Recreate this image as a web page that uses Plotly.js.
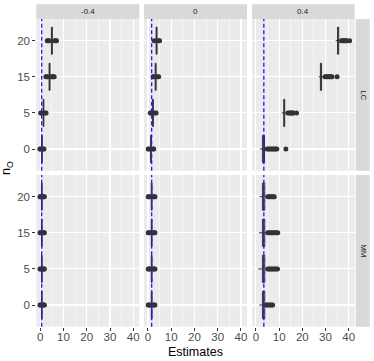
<!DOCTYPE html>
<html>
<head>
<meta charset="utf-8">
<script src="https://cdn.plot.ly/plotly-3.0.1.min.js"></script>
<style>
  html, body { margin: 0; padding: 0; background: #fff; }
  #plot { width: 374px; height: 361px; }
</style>
</head>
<body>
<div id="plot"></div>
<script>
// facets and categories
const rowNames = ['LC', 'MM'];
const colNames = ['-0.4', '0', '0.4'];
const nO = ['0', '5', '15', '20'];
const trueVals = [0.62, 1.6, 3.4];

// box stats, one array per panel (order of nO), rows LC then MM, cols -0.4, 0, 0.4
const medians = [
  [0.7, 1.4, 4.0, 5.0], [1.3, 2.15, 3.3, 3.7], [3.2, 12.2, 28.0, 35.4],
  [0.65, 0.65, 0.65, 0.65], [1.6, 1.6, 1.6, 1.6], [3.2, 3.3, 3.3, 3.2]
];
const q1s = [
  [0.55, 1.25, 3.8, 4.8], [1.15, 2.0, 3.1, 3.5], [2.8, 12.0, 27.8, 35.2],
  [0.5, 0.5, 0.5, 0.5], [1.45, 1.45, 1.45, 1.45], [2.8, 2.8, 2.8, 2.8]
];
const q3s = [
  [0.85, 1.55, 4.2, 5.2], [1.45, 2.3, 3.5, 3.9], [3.7, 12.4, 28.3, 35.7],
  [0.8, 0.8, 0.8, 0.8], [1.75, 1.75, 1.75, 1.75], [3.8, 3.8, 3.8, 3.8]
];
const lowers = [
  [0.3, 0.9, 3.3, 4.2], [0.8, 1.6, 2.7, 3.1], [1.7, 11.1, 27.1, 34.4],
  [0.2, 0.2, 0.2, 0.2], [1.1, 1.1, 1.1, 1.1], [1.4, 1.0, 1.3, 1.6]
];
const uppers = [
  [1.1, 1.9, 4.7, 5.8], [1.8, 2.7, 4.0, 4.4], [4.6, 13.4, 29.5, 36.6],
  [1.1, 1.1, 1.1, 1.1], [2.1, 2.1, 2.1, 2.1], [4.5, 4.6, 4.6, 4.6]
];
const outliers = [
  [[-0.2, 0.1, 1.3, 1.6], [0.2, 0.5, 2.2, 2.5], [2.4, 2.8, 3.1, 4.9, 5.3, 5.7, 6.0], [3.0, 3.4, 3.8, 6.2, 6.6, 7.0]],
  [[0.1, 0.4, 2.2, 2.5], [1.0, 1.3, 3.0, 3.5], [2.2, 2.5, 4.2, 4.6], [2.7, 4.6, 5.0]],
  [[4.8, 5.4, 6.0, 6.6, 7.2, 7.8, 8.4, 9.0, 12.9], [13.8, 14.3, 14.8, 15.3, 15.8, 16.1, 17.5],
   [29.8, 30.3, 30.8, 31.3, 31.8, 32.3, 32.8, 35.0], [36.8, 37.3, 37.8, 38.3, 38.8, 39.1, 40.4]],
  [[-0.1, 0.0, 1.3, 1.6, 1.75], [-0.1, 0.0, 1.3, 1.6, 1.75], [-0.1, 0.0, 1.3, 1.6, 1.75], [-0.1, 0.0, 1.3, 1.6, 1.75]],
  [[0.1, 0.4, 0.8, 2.4, 2.7, 3.0], [0.1, 0.4, 0.8, 2.4, 2.7, 3.0], [0.1, 0.4, 0.8, 2.4, 2.7, 3.0], [0.1, 0.4, 0.8, 2.4, 2.7, 3.0]],
  [[4.3, 4.9, 5.5, 6.1, 6.7, 7.2], [5.1, 5.7, 6.3, 6.9, 7.5, 8.1, 8.7, 9.3], [5.1, 5.7, 6.3, 6.9, 7.5, 8.1, 8.7, 9.4], [5.1, 5.7, 6.3, 6.9, 7.5, 7.9]]
];
const xTicks = [0, 10, 20, 30, 40];

const W = 374, H = 361;
const colPx = [[36.3, 139.3], [144, 247], [252, 354.7]];
const rowPx = [[19, 170.7], [175, 326.7]];
const font = 'Liberation Sans, Arial, sans-serif';

let traces = [];
let layout = {
  width: W, height: H,
  margin: {l: 0, r: 0, t: 0, b: 0},
  paper_bgcolor: 'white',
  plot_bgcolor: '#EBEBEB',
  showlegend: false,
  font: {family: font},
  shapes: [],
  annotations: []
};

for (let r = 0; r < 2; r++) {
  for (let c = 0; c < 3; c++) {
    let p = r * 3 + c;
    let n = p + 1;
    let xa = n === 1 ? 'x' : 'x' + n;
    let ya = n === 1 ? 'y' : 'y' + n;

    traces.push({
      type: 'box', orientation: 'h',
      y: nO,
      q1: q1s[p], median: medians[p], q3: q3s[p],
      lowerfence: lowers[p], upperfence: uppers[p],
      width: 0.75, whiskerwidth: 0,
      line: {color: '#333333', width: 1},
      fillcolor: 'white',
      boxpoints: false,
      hoverinfo: 'skip',
      xaxis: xa, yaxis: ya
    });

    let ox = [], oy = [];
    nO.forEach((cat, i) => {
      outliers[p][i].forEach(v => { ox.push(v); oy.push(cat); });
    });
    traces.push({
      type: 'scatter', mode: 'markers',
      x: ox, y: oy,
      marker: {color: '#333333', size: 5},
      hoverinfo: 'skip',
      xaxis: xa, yaxis: ya
    });

    let bottom = r === 1;
    let left = c === 0;
    layout[n === 1 ? 'xaxis' : 'xaxis' + n] = {
      domain: [colPx[c][0] / W, colPx[c][1] / W],
      anchor: ya,
      range: [-1.7, 42.6],
      tickmode: 'array', tickvals: xTicks,
      showgrid: true, gridcolor: 'white', gridwidth: 1.1,
      minor: {tickmode: 'array', tickvals: [5, 15, 25, 35], showgrid: true, gridcolor: 'white', gridwidth: 0.5, ticks: ''},
      zeroline: false, showline: false,
      ticks: bottom ? 'outside' : '', ticklen: 3, tickcolor: '#333333', tickwidth: 1,
      ticklabelstandoff: -4,
      showticklabels: bottom,
      tickfont: {size: 11.5, color: '#4D4D4D', family: font}
    };
    layout[n === 1 ? 'yaxis' : 'yaxis' + n] = {
      domain: [1 - rowPx[r][1] / H, 1 - rowPx[r][0] / H],
      anchor: xa,
      type: 'category', categoryorder: 'array', categoryarray: nO,
      range: [-0.6, 3.6],
      showgrid: true, gridcolor: 'white', gridwidth: 1.1,
      zeroline: false, showline: false,
      ticks: left ? 'outside' : '', ticklen: 3, tickcolor: '#333333', tickwidth: 1,
      showticklabels: left,
      tickfont: {size: 11.5, color: '#4D4D4D', family: font}
    };

    // reference line per panel
    layout.shapes.push({
      type: 'line', layer: 'above',
      xref: xa, yref: ya + ' domain',
      x0: trueVals[c], x1: trueVals[c], y0: 0, y1: 1,
      line: {color: '#1A1AFF', width: 1.3, dash: '4px,2.5px'}
    });
  }
}

// strips
colNames.forEach((name, c) => {
  layout.shapes.push({
    type: 'rect', xref: 'paper', yref: 'paper', layer: 'below',
    x0: colPx[c][0] / W, x1: colPx[c][1] / W, y0: 1 - 19 / H, y1: 1 - 4.3 / H,
    fillcolor: '#D9D9D9', line: {width: 0}
  });
  layout.annotations.push({
    text: name, xref: 'paper', yref: 'paper',
    x: (colPx[c][0] + colPx[c][1]) / 2 / W, y: 1 - 11.7 / H,
    xanchor: 'center', yanchor: 'middle',
    showarrow: false, font: {size: 8, color: '#1A1A1A', family: font}
  });
});
rowNames.forEach((name, r) => {
  layout.shapes.push({
    type: 'rect', xref: 'paper', yref: 'paper', layer: 'below',
    x0: 355.7 / W, x1: 369.7 / W, y0: 1 - rowPx[r][1] / H, y1: 1 - rowPx[r][0] / H,
    fillcolor: '#D9D9D9', line: {width: 0}
  });
  layout.annotations.push({
    text: name, xref: 'paper', yref: 'paper', textangle: 90,
    x: 362.7 / W, y: 1 - (rowPx[r][0] + rowPx[r][1]) / 2 / H,
    xanchor: 'center', yanchor: 'middle',
    showarrow: false, font: {size: 8, color: '#1A1A1A', family: font}
  });
});

// axis titles
layout.annotations.push({
  text: 'Estimates', xref: 'paper', yref: 'paper',
  x: 195.5 / W, y: 1 - 352 / H,
  xanchor: 'center', yanchor: 'middle',
  showarrow: false, font: {size: 12.5, color: 'black', family: font}
});
layout.annotations.push({
  text: 'n<sub>O</sub>', xref: 'paper', yref: 'paper', textangle: -90,
  x: 7 / W, y: 1 - 168 / H,
  xanchor: 'center', yanchor: 'middle',
  showarrow: false, font: {size: 12.5, color: 'black', family: font}
});

Plotly.newPlot('plot', traces, layout, {staticPlot: true, displayModeBar: false});
</script>
</body>
</html>
